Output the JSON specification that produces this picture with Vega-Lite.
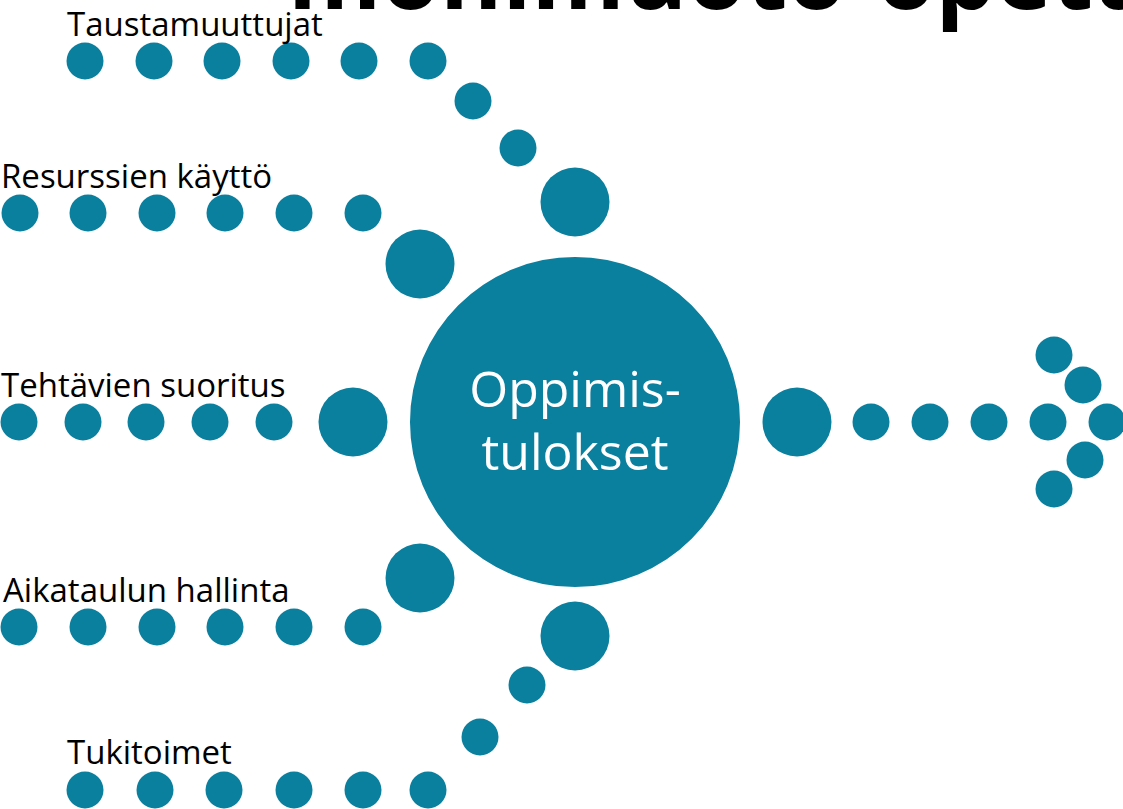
{
  "$schema": "https://vega.github.io/schema/vega-lite/v6.json",
  "width": 1123,
  "height": 809,
  "padding": 0,
  "autosize": {"type": "none"},
  "background": "white",
  "config": {"view": {"stroke": null}},
  "datasets": {
    "dots": [
      {"group": "Taustamuuttujat", "x": 85, "y": 61, "kind": "small"},
      {"group": "Taustamuuttujat", "x": 154, "y": 61, "kind": "small"},
      {"group": "Taustamuuttujat", "x": 222, "y": 61, "kind": "small"},
      {"group": "Taustamuuttujat", "x": 291, "y": 61, "kind": "small"},
      {"group": "Taustamuuttujat", "x": 359, "y": 61, "kind": "small"},
      {"group": "Taustamuuttujat", "x": 428, "y": 61, "kind": "small"},
      {"group": "Taustamuuttujat", "x": 473, "y": 101, "kind": "small"},
      {"group": "Taustamuuttujat", "x": 518, "y": 148, "kind": "small"},
      {"group": "Taustamuuttujat", "x": 575, "y": 202, "kind": "medium"},
      {"group": "Resurssien käyttö", "x": 20, "y": 213, "kind": "small"},
      {"group": "Resurssien käyttö", "x": 88, "y": 213, "kind": "small"},
      {"group": "Resurssien käyttö", "x": 157, "y": 213, "kind": "small"},
      {"group": "Resurssien käyttö", "x": 225, "y": 213, "kind": "small"},
      {"group": "Resurssien käyttö", "x": 294, "y": 213, "kind": "small"},
      {"group": "Resurssien käyttö", "x": 363, "y": 213, "kind": "small"},
      {"group": "Resurssien käyttö", "x": 420, "y": 264, "kind": "medium"},
      {"group": "Tehtävien suoritus", "x": 19, "y": 422, "kind": "small"},
      {"group": "Tehtävien suoritus", "x": 83, "y": 422, "kind": "small"},
      {"group": "Tehtävien suoritus", "x": 146, "y": 422, "kind": "small"},
      {"group": "Tehtävien suoritus", "x": 210, "y": 422, "kind": "small"},
      {"group": "Tehtävien suoritus", "x": 274, "y": 422, "kind": "small"},
      {"group": "Tehtävien suoritus", "x": 353, "y": 422, "kind": "medium"},
      {"group": "Aikataulun hallinta", "x": 19, "y": 627, "kind": "small"},
      {"group": "Aikataulun hallinta", "x": 88, "y": 627, "kind": "small"},
      {"group": "Aikataulun hallinta", "x": 157, "y": 627, "kind": "small"},
      {"group": "Aikataulun hallinta", "x": 225, "y": 627, "kind": "small"},
      {"group": "Aikataulun hallinta", "x": 294, "y": 627, "kind": "small"},
      {"group": "Aikataulun hallinta", "x": 363, "y": 627, "kind": "small"},
      {"group": "Aikataulun hallinta", "x": 420, "y": 578, "kind": "medium"},
      {"group": "Tukitoimet", "x": 85, "y": 790, "kind": "small"},
      {"group": "Tukitoimet", "x": 155, "y": 790, "kind": "small"},
      {"group": "Tukitoimet", "x": 224, "y": 790, "kind": "small"},
      {"group": "Tukitoimet", "x": 294, "y": 790, "kind": "small"},
      {"group": "Tukitoimet", "x": 363, "y": 790, "kind": "small"},
      {"group": "Tukitoimet", "x": 428, "y": 790, "kind": "small"},
      {"group": "Tukitoimet", "x": 480, "y": 737, "kind": "small"},
      {"group": "Tukitoimet", "x": 527, "y": 685, "kind": "small"},
      {"group": "Tukitoimet", "x": 575, "y": 636, "kind": "medium"},
      {"group": "Oppimistulokset", "x": 575, "y": 422, "kind": "center"},
      {"group": "Tulos", "x": 797, "y": 422, "kind": "medium"},
      {"group": "Tulos", "x": 871, "y": 422, "kind": "small"},
      {"group": "Tulos", "x": 930, "y": 422, "kind": "small"},
      {"group": "Tulos", "x": 989, "y": 422, "kind": "small"},
      {"group": "Tulos", "x": 1048, "y": 422, "kind": "small"},
      {"group": "Tulos", "x": 1107, "y": 422, "kind": "small"},
      {"group": "Tulos", "x": 1054, "y": 355, "kind": "small"},
      {"group": "Tulos", "x": 1083, "y": 385, "kind": "small"},
      {"group": "Tulos", "x": 1085, "y": 460, "kind": "small"},
      {"group": "Tulos", "x": 1054, "y": 489, "kind": "small"}
    ],
    "labels": [
      {"label": "Taustamuuttujat", "x": 67, "y": 36},
      {"label": "Resurssien käyttö", "x": 1, "y": 188},
      {"label": "Tehtävien suoritus", "x": 1, "y": 397},
      {"label": "Aikataulun hallinta", "x": 3, "y": 602},
      {"label": "Tukitoimet", "x": 67, "y": 764}
    ],
    "center": [
      {"label": "Oppimis-", "x": 575, "y": 407},
      {"label": "tulokset", "x": 575, "y": 470}
    ],
    "title": [
      {"label": "monimuoto-opetus", "x": 288, "y": 9}
    ]
  },
  "encoding": {
    "x": {"field": "x", "type": "quantitative", "scale": {"domain": [0, 1123], "nice": false, "zero": false}, "axis": null},
    "y": {"field": "y", "type": "quantitative", "scale": {"domain": [0, 809], "nice": false, "zero": false, "reverse": true}, "axis": null}
  },
  "layer": [
    {
      "data": {"name": "dots"},
      "transform": [{"filter": "datum.kind === 'small'"}],
      "mark": {"type": "point", "shape": "circle", "filled": true, "opacity": 1, "color": "#0a7f9e", "size": 1369, "clip": true}
    },
    {
      "data": {"name": "dots"},
      "transform": [{"filter": "datum.kind === 'medium'"}],
      "mark": {"type": "point", "shape": "circle", "filled": true, "opacity": 1, "color": "#0a7f9e", "size": 4761, "clip": true}
    },
    {
      "data": {"name": "dots"},
      "transform": [{"filter": "datum.kind === 'center'"}],
      "mark": {"type": "point", "shape": "circle", "filled": true, "opacity": 1, "color": "#0a7f9e", "size": 108900, "clip": true}
    },
    {
      "data": {"name": "labels"},
      "mark": {"type": "text", "align": "left", "baseline": "alphabetic", "font": "Open Sans", "fontSize": 33, "color": "black", "clip": true},
      "encoding": {"text": {"field": "label"}}
    },
    {
      "data": {"name": "center"},
      "mark": {"type": "text", "align": "center", "baseline": "alphabetic", "font": "Open Sans", "fontSize": 50, "color": "white", "clip": true},
      "encoding": {"text": {"field": "label"}}
    },
    {
      "data": {"name": "title"},
      "mark": {"type": "text", "align": "left", "baseline": "alphabetic", "font": "Open Sans", "fontWeight": "bold", "fontSize": 95, "color": "black", "clip": true},
      "encoding": {"text": {"field": "label"}}
    }
  ]
}
